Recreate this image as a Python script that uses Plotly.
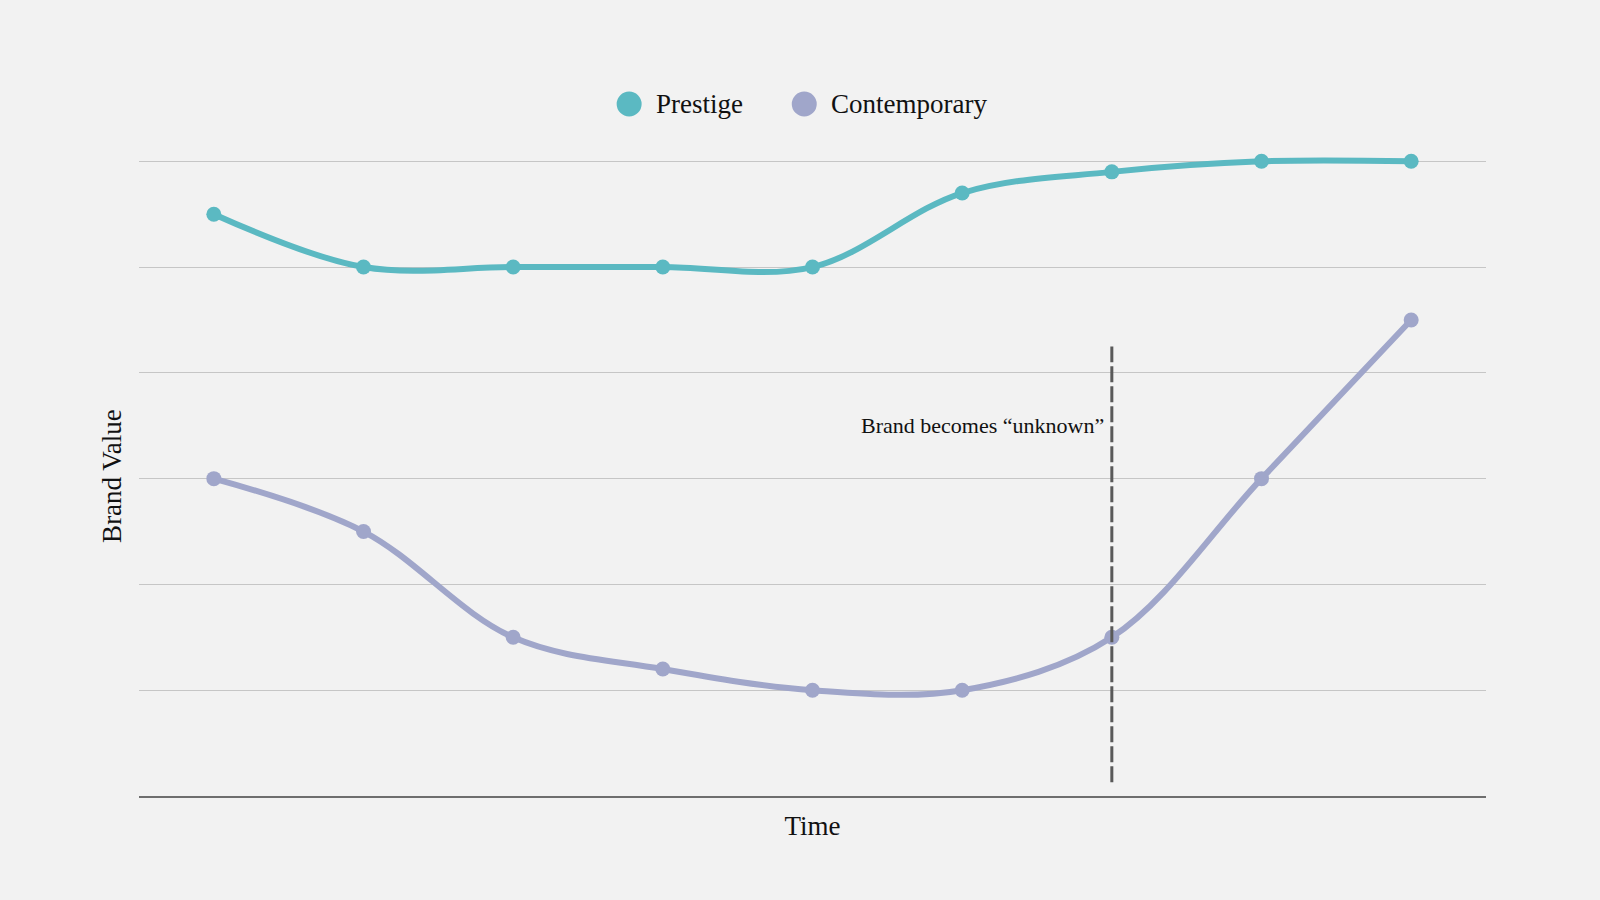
import plotly.graph_objects as go

# time steps (no tick labels shown on the chart)
periods = [0, 1, 2, 3, 4, 5, 6, 7, 8]
prestige = [5.5, 5.0, 5.0, 5.0, 5.0, 5.7, 5.9, 6.0, 6.0]
contemporary = [3.0, 2.5, 1.5, 1.2, 1.0, 1.0, 1.5, 3.0, 4.5]

event_period = 6
event_label = "Brand becomes \u201cunknown\u201d"

series_names = ["Prestige", "Contemporary"]
series_colors = ["#5bb9c2", "#a0a6ca"]

FONT = "Liberation Serif"

fig = go.Figure()
for name, values, color in zip(series_names, [prestige, contemporary], series_colors):
    fig.add_trace(
        go.Scatter(
            x=periods,
            y=values,
            name=name,
            mode="lines+markers",
            line=dict(color=color, width=6, shape="spline", smoothing=1),
            marker=dict(color=color, size=15),
            cliponaxis=False,
            showlegend=False
        )
    )

# vertical marker for the event
fig.add_shape(
    type="line",
    x0=event_period, x1=event_period,
    y0=0.13, y1=4.25,
    xref="x", yref="y",
    line=dict(color="#595959", width=3, dash="16px,4px")
)
fig.add_annotation(
    x=event_period, y=3.5,
    xref="x", yref="y",
    text=event_label,
    showarrow=False,
    xanchor="right",
    xshift=-6,
    font=dict(family=FONT, size=22, color="#111111")
)

# custom legend with large dots
legend_x = [0.3546, 0.4846]
legend_y = 1.0812
for name, color, lx in zip(series_names, series_colors, legend_x):
    fig.add_shape(
        type="circle",
        xref="paper", yref="paper",
        xsizemode="pixel", ysizemode="pixel",
        xanchor=lx, yanchor=legend_y,
        x0=0, x1=25, y0=-12.5, y1=12.5,
        fillcolor=color,
        line=dict(width=0)
    )
    fig.add_annotation(
        x=lx, y=legend_y,
        xref="paper", yref="paper",
        xshift=37,
        text=name,
        showarrow=False,
        xanchor="left",
        yanchor="middle",
        font=dict(family=FONT, size=27, color="#111111")
    )

fig.update_layout(
    width=1600,
    height=900,
    paper_bgcolor="#f2f2f2",
    plot_bgcolor="#f2f2f2",
    margin=dict(l=139, r=114, t=156, b=104),
    font=dict(family=FONT, color="#111111"),
    showlegend=False,
    xaxis=dict(
        range=[-0.5, 8.5],
        showgrid=False,
        zeroline=False,
        showticklabels=False,
        ticks="",
        showline=True,
        linecolor="#6e6e6e",
        linewidth=1.5,
        title=dict(text="Time", font=dict(size=27), standoff=19)
    ),
    yaxis=dict(
        range=[0, 6.05],
        tickvals=[1, 2, 3, 4, 5, 6],
        showgrid=True,
        gridcolor="#c6c6c6",
        gridwidth=1,
        zeroline=False,
        showticklabels=False,
        ticks="",
        title=dict(text="Brand Value", font=dict(size=27), standoff=8)
    )
)

fig.write_html(
    "out.html",
    config={"displayModeBar": False},
    post_script="document.body.style.margin='0';document.body.style.background='#f2f2f2';"
)
